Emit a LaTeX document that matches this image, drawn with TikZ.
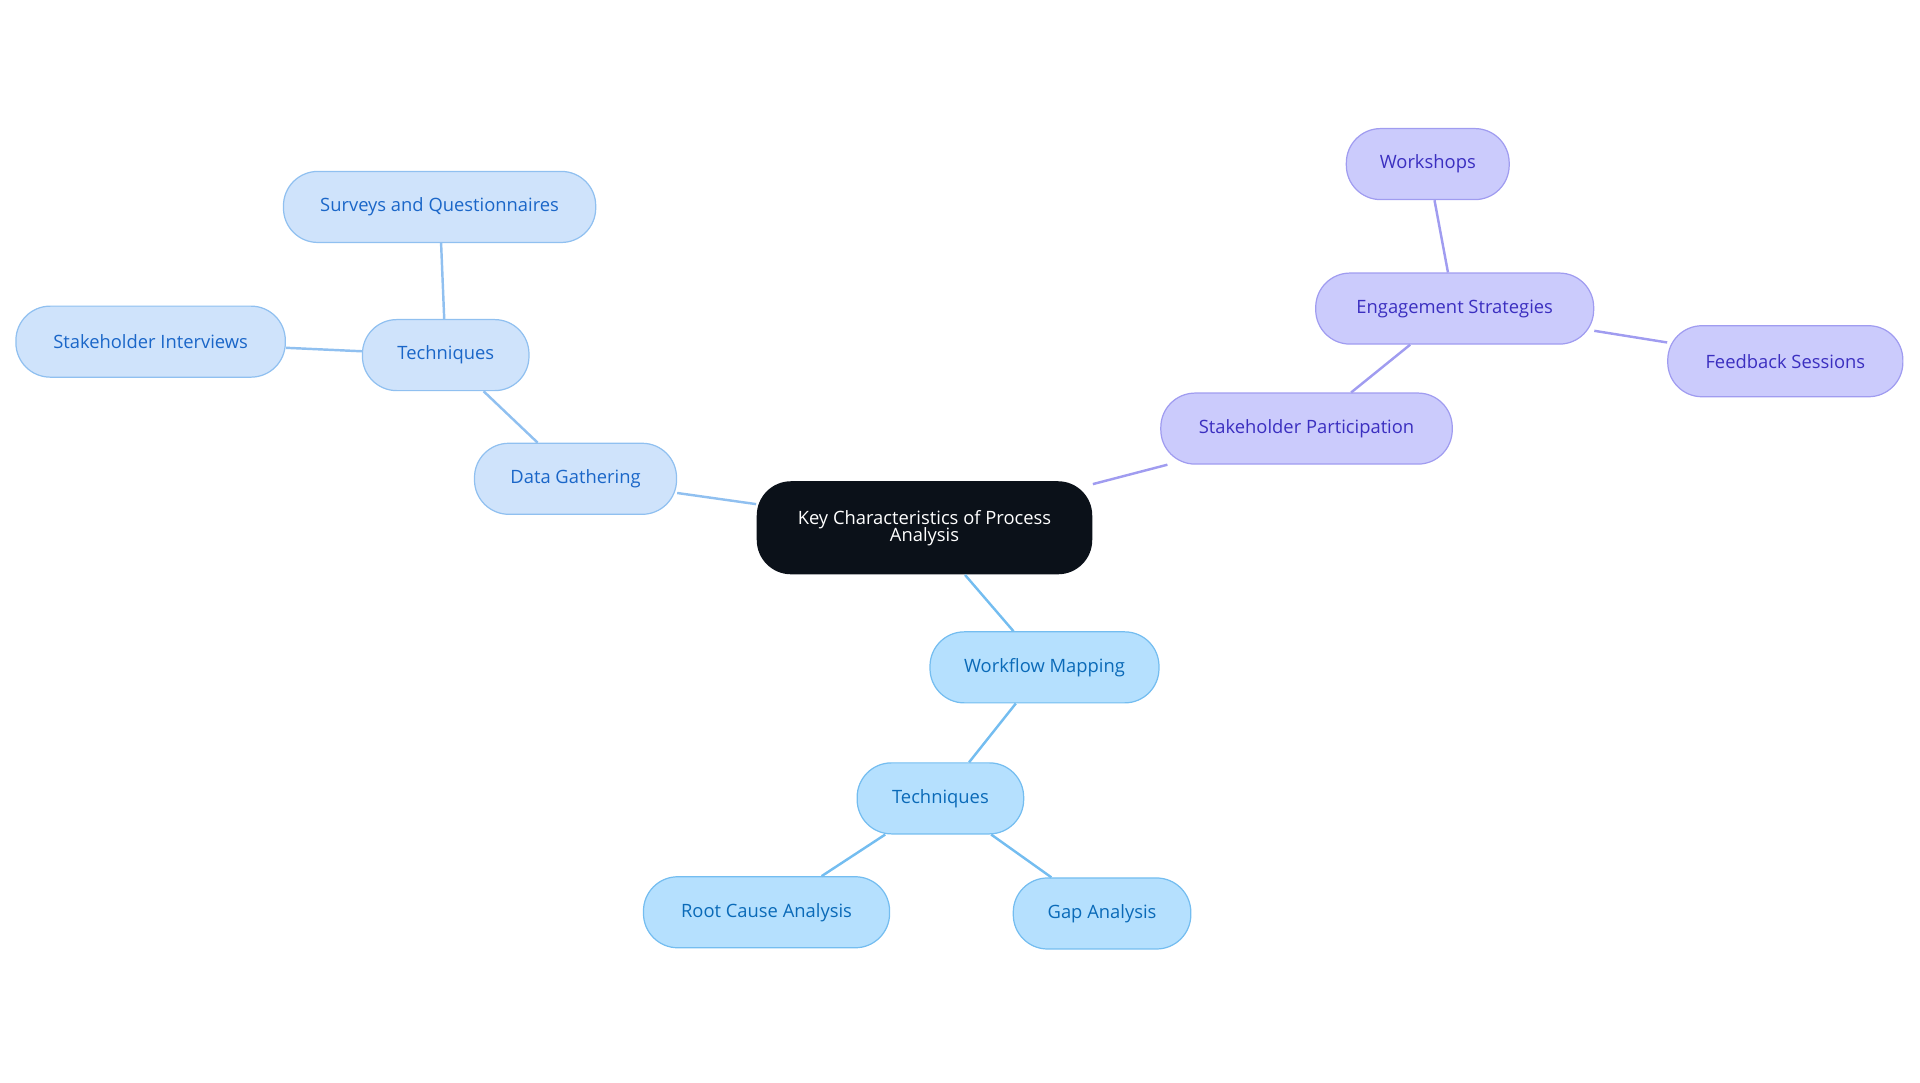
\documentclass[tikz,border=0pt]{standalone}
\usepackage{fontspec}
\setmainfont{Open Sans}
\definecolor{rootfill}{HTML}{0B1119}
\definecolor{gfill}{HTML}{CFE3FB}\definecolor{gline}{HTML}{90C0F0}\definecolor{gtext}{HTML}{1A66C8}
\definecolor{pfill}{HTML}{CBCBFC}\definecolor{pline}{HTML}{A09CF0}\definecolor{ptext}{HTML}{3B2FC0}
\definecolor{bfill}{HTML}{B5E0FE}\definecolor{bline}{HTML}{74BDF0}\definecolor{btext}{HTML}{0A6AB8}
\begin{document}
\begin{tikzpicture}[x=1pt, y=-1pt,
        every node/.style={rounded corners=28pt, minimum height=58pt, font=\fontsize{15}{17}\selectfont, line width=1pt},
        gnode/.style={draw=gline, fill=gfill, text=gtext},
        pnode/.style={draw=pline, fill=pfill, text=ptext},
        bnode/.style={draw=bline, fill=bfill, text=btext},
        gedge/.style={gline, line width=2pt},
        pedge/.style={pline, line width=2pt},
        bedge/.style={bline, line width=2pt}
    ]
        \useasboundingbox (0,0) rectangle (1568,884);
        % main topic
        \node [fill=rootfill, text=white, minimum width=274pt, minimum height=76pt, align=center] (root) at (755,431) {Key Characteristics of Process\\[-3pt]Analysis};
        % left branch
        \node [gnode, minimum width=165pt] (data) at (470,391) {Data Gathering};
        \node [gnode, minimum width=136pt] (techA) at (364,290) {Techniques};
        \node [gnode, minimum width=255pt] (surveys) at (359,169) {Surveys and Questionnaires};
        \node [gnode, minimum width=220pt] (interviews) at (123,279) {Stakeholder Interviews};
        % right branch
        \node [pnode, minimum width=238pt] (part) at (1067,350) {Stakeholder Participation};
        \node [pnode, minimum width=227pt] (engage) at (1188,252) {Engagement Strategies};
        \node [pnode, minimum width=133pt] (workshops) at (1166,134) {Workshops};
        \node [pnode, minimum width=192pt] (feedback) at (1458,295) {Feedback Sessions};
        % bottom branch
        \node [bnode, minimum width=187pt] (workflow) at (853,545) {Workflow Mapping};
        \node [bnode, minimum width=136pt] (techB) at (768,652) {Techniques};
        \node [bnode, minimum width=201pt] (rootcause) at (626,745) {Root Cause Analysis};
        \node [bnode, minimum width=145pt] (gap) at (900,746) {Gap Analysis};

        % connectors
        \draw[gedge] (root) -- (data);
        \draw[gedge] (data) -- (techA);
        \draw[gedge] (techA) -- (surveys);
        \draw[gedge] (techA) -- (interviews);
        \draw[pedge] (root) -- (part);
        \draw[pedge] (part) -- (engage);
        \draw[pedge] (engage) -- (workshops);
        \draw[pedge] (engage) -- (feedback);
        \draw[bedge] (root) -- (workflow);
        \draw[bedge] (workflow) -- (techB);
        \draw[bedge] (techB) -- (rootcause);
        \draw[bedge] (techB) -- (gap);
    \end{tikzpicture}
\end{document}
